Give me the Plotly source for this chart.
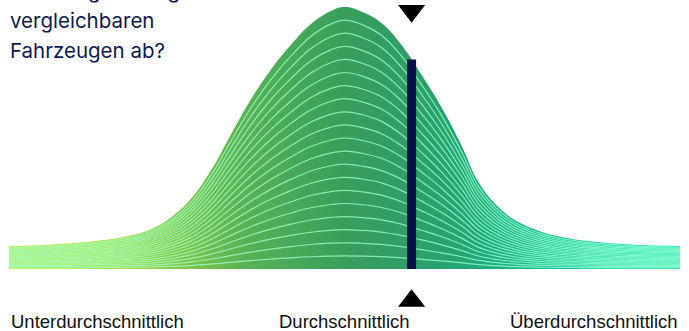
import plotly.graph_objects as go

# Verteilung der Bewertung vergleichbarer Fahrzeuge (Score 0-100, Anteil in % vom Maximum)
scores = [0, 6, 13.5, 18, 21, 24, 27, 30, 33, 36, 39, 42, 45, 48, 50,
          52.5, 55.5, 58.5, 61.5, 64.5, 67.5, 70, 73, 76, 79, 82, 86.5, 92.5, 100]
share = [8.8, 9.3, 10.9, 12.7, 15.0, 19.4, 26.4, 37.2, 51.0, 64.5, 76.0, 85.5, 93.5, 98.5, 100,
         98.3, 93.9, 85.5, 74.0, 61.5, 46.8, 33.0, 23.5, 17.8, 14.5, 12.4, 10.6, 9.4, 8.8]

# eigenes Fahrzeug
vehicle_score = 60
vehicle_share = 80

question = ["Fahrzeug im Vergleich zu", "vergleichbaren", "Fahrzeugen ab?"]
labels = ["Unterdurchschnittlich", "Durchschnittlich", "Überdurchschnittlich"]
label_pos = [0, 50, 100]
n_lines = 20

W, H = 689, 331
NAVY = "#0b1148"

fill_scale = [
    [0.0, "#dfe31e"], [0.15, "#bcd934"], [0.25, "#88c64c"], [0.35, "#5ab256"],
    [0.5, "#389e5c"], [0.6, "#2e9e68"], [0.7, "#22a87b"], [0.8, "#17bc9c"],
    [0.9, "#10ceb6"], [1.0, "#0cdcc6"],
]

fig = go.Figure()

# gefuellte Glockenkurve mit Farbverlauf
fig.add_trace(go.Scatter(
    x=scores, y=share, mode="lines", line=dict(width=0, shape="spline", smoothing=1.2),
    fill="tozeroy", fillgradient=dict(type="horizontal", colorscale=fill_scale),
    hoverinfo="skip", showlegend=False,
))

# skalierte Kopien der Kurve als helle Linien
for k in range(1, n_lines):
    t = k / n_lines
    fig.add_trace(go.Scatter(
        x=scores, y=[v * t for v in share], mode="lines",
        line=dict(width=1.2, shape="spline", smoothing=1.2, color="rgba(150,255,200,0.8)"),
        hoverinfo="skip", showlegend=False,
    ))

# Balken fuer das eigene Fahrzeug (als dicke Linie, damit er ueber der Flaeche liegt)
fig.add_trace(go.Scatter(
    x=[vehicle_score, vehicle_score], y=[0, vehicle_share], mode="lines",
    line=dict(color=NAVY, width=9), hoverinfo="skip", showlegend=False,
))

# Dreiecke oben und unten
fig.add_trace(go.Scatter(
    x=[vehicle_score, vehicle_score], y=[98.5, -12.2], mode="markers",
    marker=dict(symbol=["triangle-down", "triangle-up"], size=23.5, color="black"),
    showlegend=False, hoverinfo="skip", cliponaxis=False,
))

# Frage oben links
line_base = [-3, 26.7, 56.7]
for txt, b in zip(question, line_base):
    fig.add_annotation(
        text=txt, xref="paper", yref="paper", x=8 / W, y=1 - (b - 6.2) / H,
        xanchor="left", yanchor="middle", showarrow=False,
        font=dict(family="Inter", size=20.5, color="#0d1a52"),
    )

# Beschriftungen unten
for txt, xp, anc in zip(labels, label_pos, ["left", "center", "right"]):
    fig.add_annotation(
        text=txt, xref="x", yref="paper", x=xp, y=1 - 321.5 / H,
        xanchor=anc, yanchor="middle", showarrow=False,
        font=dict(family="Liberation Sans, Arial", size=18.5, color="#111111"),
    )

fig.update_layout(
    width=W, height=H, margin=dict(l=0, r=0, t=0, b=0),
    plot_bgcolor="white", paper_bgcolor="white",
    xaxis=dict(range=[-1.341, 101.341], visible=False, fixedrange=True),
    yaxis=dict(range=[-23.66, 102.67], visible=False, fixedrange=True),
)

fig.write_html("out.html", config={"displayModeBar": False},
               post_script="document.body.style.margin='0';")
